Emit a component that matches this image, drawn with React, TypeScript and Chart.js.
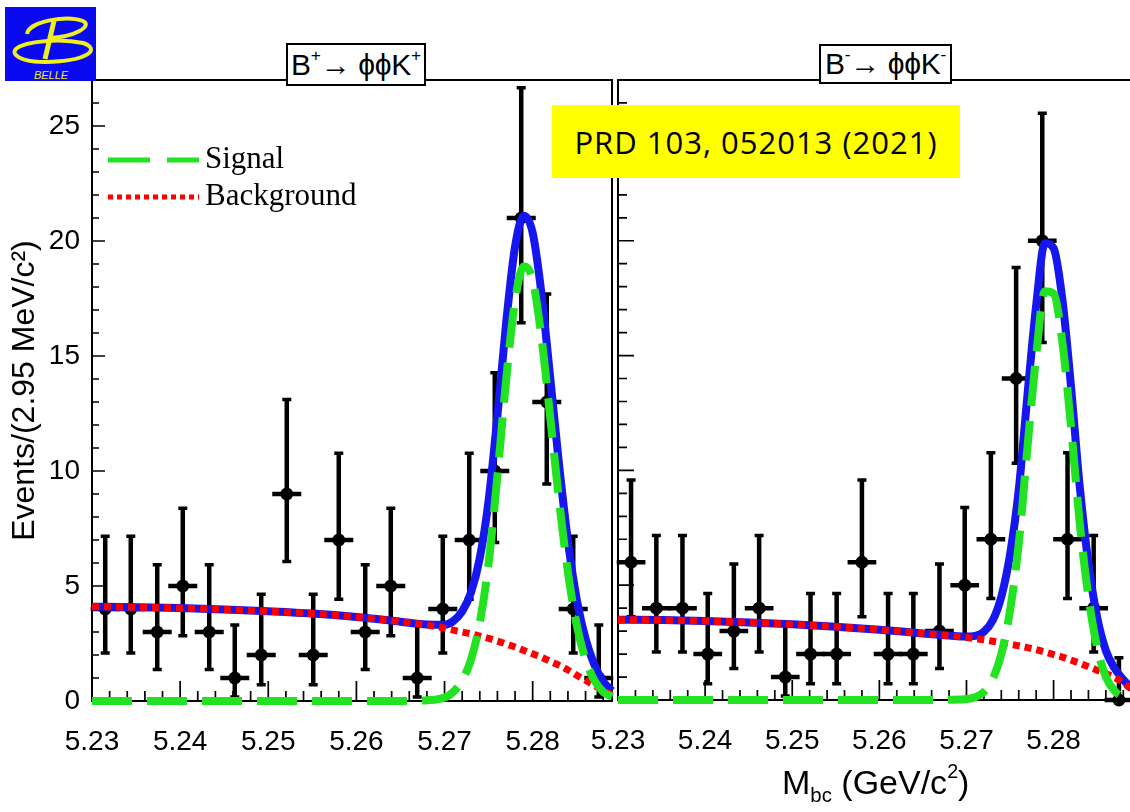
import React, { useEffect, useRef } from "react";
import { Chart, registerables } from "chart.js";

Chart.register(...registerables);

// ---------------- data ----------------
const massTicks = [5.23, 5.24, 5.25, 5.26, 5.27, 5.28];
const eventTicks = [0, 5, 10, 15, 20, 25];

const binCenters = [
  5.2315, 5.2344, 5.2374, 5.2403, 5.2433, 5.2462, 5.2492, 5.2521, 5.2551, 5.258,
  5.261, 5.2639, 5.2669, 5.2698, 5.2728, 5.2757, 5.2787, 5.2816, 5.2846, 5.2875,
];
const binHalfWidth = 0.001475;

// B+ -> phi phi K+
const plusCounts = [4, 4, 3, 5, 3, 1, 2, 9, 2, 7, 3, 5, 1, 4, 7, 10, 21, 13, 4, 1];
const plusErrLow = [1.91, 1.91, 1.63, 2.16, 1.63, 0.83, 1.29, 2.94, 1.29, 2.58, 1.63, 2.16, 0.83, 1.91, 2.58, 3.11, 4.55, 3.56, 1.91, 0.83];
const plusErrHigh = [3.16, 3.16, 2.92, 3.38, 2.92, 2.3, 2.64, 4.11, 2.64, 3.77, 2.92, 3.38, 2.3, 3.16, 3.77, 4.27, 5.66, 4.7, 3.16, 2.3];

// B- -> phi phi K-
const minusCounts = [6, 4, 4, 2, 3, 4, 1, 2, 2, 6, 2, 2, 3, 5, 7, 14, 20, 7, 4, 0];
const minusErrLow = [2.38, 1.91, 1.91, 1.29, 1.63, 1.91, 0.83, 1.29, 1.29, 2.38, 1.29, 1.29, 1.63, 2.16, 2.58, 3.69, 4.43, 2.58, 1.91, 0];
const minusErrHigh = [3.58, 3.16, 3.16, 2.64, 2.92, 3.16, 2.3, 2.64, 2.64, 3.58, 2.64, 2.64, 2.92, 3.38, 3.77, 4.83, 5.55, 3.77, 3.16, 1.84];

// fit curves
const curveMass = [
  5.23, 5.235, 5.24, 5.245, 5.25, 5.255, 5.26, 5.265, 5.268, 5.27, 5.271, 5.272, 5.273, 5.274, 5.275,
  5.276, 5.277, 5.278, 5.279, 5.28, 5.281, 5.282, 5.283, 5.284, 5.285, 5.286, 5.287, 5.288, 5.289,
];
const plusBackground = [4.1, 4.08, 4.04, 3.98, 3.9, 3.8, 3.65, 3.45, 3.3, 3.17, 3.08, 3.0, 2.92, 2.82, 2.72, 2.6, 2.48, 2.35, 2.2, 2.05, 1.9, 1.72, 1.55, 1.35, 1.12, 0.9, 0.68, 0.45, 0.27];
const plusSignal = [0, 0, 0, 0, 0, 0, 0, 0, 0.03, 0.15, 0.4, 0.9, 1.8, 3.4, 6.0, 9.8, 14.0, 17.4, 18.9, 18.3, 15.8, 12.3, 8.7, 5.6, 3.3, 1.8, 0.9, 0.4, 0.18];
const plusTotal = [4.1, 4.08, 4.04, 3.98, 3.9, 3.8, 3.65, 3.45, 3.33, 3.32, 3.48, 3.9, 4.72, 6.22, 8.72, 12.4, 16.48, 19.75, 21.1, 20.35, 17.7, 14.02, 10.25, 6.95, 4.42, 2.7, 1.58, 0.85, 0.45];

const minusBackground = [3.5, 3.48, 3.44, 3.38, 3.3, 3.19, 3.06, 2.9, 2.8, 2.72, 2.67, 2.62, 2.56, 2.5, 2.43, 2.36, 2.28, 2.19, 2.09, 1.98, 1.87, 1.74, 1.6, 1.45, 1.3, 1.15, 0.98, 0.75, 0.45];
const minusSignal = [0, 0, 0, 0, 0, 0, 0, 0, 0.01, 0.04, 0.12, 0.35, 0.9, 2.0, 3.9, 6.8, 11.0, 15.0, 17.8, 17.7, 15.6, 11.9, 7.7, 4.5, 2.3, 1.0, 0.4, 0.14, 0.04];
const minusTotal = [3.5, 3.48, 3.44, 3.38, 3.3, 3.19, 3.06, 2.9, 2.81, 2.76, 2.79, 2.97, 3.46, 4.5, 6.33, 9.16, 13.28, 17.19, 19.89, 19.68, 17.47, 13.64, 9.3, 5.95, 3.6, 2.15, 1.38, 0.89, 0.49];

// ---------------- styles ----------------
const GREEN = "rgb(34,226,34)";
const RED = "#ff0000";
const BLUE = "rgb(22,22,238)";
const SANS = '"Liberation Sans", Arial, Helvetica, sans-serif';
const SERIF = '"Liberation Serif", "Times New Roman", serif';

const rootFrame = {
  id: "rootFrame",
  beforeDatasetsDraw(chart: any, _args: any, opts: any) {
    const { ctx, chartArea } = chart;
    const { left, right, top, bottom } = chartArea;
    const xs = chart.scales.x;
    const ys = chart.scales.y;
    ctx.save();
    ctx.strokeStyle = "#000";
    // inward ticks
    ctx.lineWidth = 1.7;
    ctx.beginPath();
    for (let v = 0; v <= ys.max + 1e-9; v += 1) {
      const py = ys.getPixelForValue(v);
      const len = eventTicks.includes(v) ? opts.yMajor : opts.yMinor;
      ctx.moveTo(left, py);
      ctx.lineTo(left + len, py);
    }
    for (let k = 0; ; k++) {
      const v = massTicks[0] + k * 0.002;
      if (v > xs.max + 1e-9) break;
      const px = xs.getPixelForValue(v);
      const len = k % 5 === 0 ? 20 : 10;
      ctx.moveTo(px, bottom);
      ctx.lineTo(px, bottom - len);
    }
    ctx.stroke();
    // frame
    ctx.lineWidth = 2;
    ctx.strokeRect(left, top, right - left, bottom - top);
    // error bars
    const { counts, lo, hi } = opts;
    ctx.lineCap = "butt";
    for (let i = 0; i < binCenters.length; i++) {
      const c = binCenters[i];
      const cx = xs.getPixelForValue(c);
      const x1 = xs.getPixelForValue(c - binHalfWidth);
      const x2 = xs.getPixelForValue(c + binHalfWidth);
      const py = ys.getPixelForValue(counts[i]);
      const pLo = ys.getPixelForValue(counts[i] - lo[i]);
      const pHi = ys.getPixelForValue(counts[i] + hi[i]);
      ctx.lineWidth = 4.5;
      ctx.beginPath();
      ctx.moveTo(x1 - 1.5, py);
      ctx.lineTo(x2 + 1.5, py);
      ctx.moveTo(cx, pLo);
      ctx.lineTo(cx, pHi);
      ctx.stroke();
      ctx.lineWidth = 3.5;
      ctx.beginPath();
      ctx.moveTo(cx - 4.5, pHi);
      ctx.lineTo(cx + 4.5, pHi);
      if (lo[i] > 0) {
        ctx.moveTo(cx - 4.5, pLo);
        ctx.lineTo(cx + 4.5, pLo);
      }
      ctx.stroke();
    }
    ctx.restore();
  },
  afterDraw(chart: any, _args: any, opts: any) {
    if (!opts.legend) return;
    const { ctx } = chart;
    ctx.save();
    ctx.lineWidth = 5;
    ctx.strokeStyle = GREEN;
    ctx.setLineDash([42, 17]);
    ctx.beginPath();
    ctx.moveTo(108, 160);
    ctx.lineTo(199, 160);
    ctx.stroke();
    ctx.strokeStyle = RED;
    ctx.setLineDash([5, 4]);
    ctx.beginPath();
    ctx.moveTo(108, 197);
    ctx.lineTo(199, 197);
    ctx.stroke();
    ctx.setLineDash([]);
    ctx.fillStyle = "#000";
    ctx.font = `31px ${SERIF}`;
    ctx.textBaseline = "middle";
    ctx.fillText("Signal", 205, 160);
    ctx.fillText("Background", 205, 197);
    ctx.restore();
  },
};

function makeConfig(
  counts: number[],
  lo: number[],
  hi: number[],
  signal: number[],
  background: number[],
  total: number[],
  side: "left" | "right"
): any {
  const isLeft = side === "left";
  const curve = (vals: number[]) => curveMass.map((m, i) => ({ x: m, y: vals[i] }));
  return {
    type: "line",
    data: {
      datasets: [
        {
          label: "Signal",
          data: curve(signal),
          borderColor: GREEN,
          borderWidth: 8,
          borderDash: [40, 15],
          pointRadius: 0,
          cubicInterpolationMode: "monotone",
          fill: false,
          clip: false,
        },
        {
          label: "Background",
          data: curve(background),
          borderColor: RED,
          borderWidth: 7,
          borderDash: [7, 5],
          pointRadius: 0,
          cubicInterpolationMode: "monotone",
          fill: false,
          clip: false,
        },
        {
          label: "Total",
          data: curve(total),
          borderColor: BLUE,
          borderWidth: 8,
          pointRadius: 0,
          cubicInterpolationMode: "monotone",
          fill: false,
          clip: false,
        },
        {
          label: "Data",
          data: binCenters.map((c, i) => ({ x: c, y: counts[i] })),
          showLine: false,
          pointRadius: 6.5,
          pointBackgroundColor: "#000",
          pointBorderColor: "#000",
          pointBorderWidth: 0,
          clip: false,
        },
      ],
    },
    options: {
      responsive: false,
      maintainAspectRatio: false,
      animation: false,
      events: [],
      layout: {
        autoPadding: false,
        padding: { left: 0, top: 80, right: isLeft ? 4 : 18, bottom: 0 },
      },
      plugins: {
        legend: { display: false },
        tooltip: { enabled: false },
        rootFrame: {
          counts,
          lo,
          hi,
          yMajor: isLeft ? 13 : 16,
          yMinor: isLeft ? 7 : 9,
          legend: isLeft,
        },
      },
      scales: {
        x: {
          type: "linear",
          min: 5.23,
          max: 5.289,
          afterBuildTicks: (axis: any) => {
            axis.ticks = massTicks.map((v) => ({ value: v }));
          },
          afterFit: (s: any) => {
            s.height = isLeft ? 111 : 112;
          },
          grid: { display: false, drawTicks: false },
          border: { display: false },
          ticks: {
            callback: (v: any) => Number(v).toFixed(2),
            color: "#000",
            font: { family: SANS, size: 28 },
            padding: 24,
            maxRotation: 0,
            autoSkip: false,
          },
        },
        y: {
          type: "linear",
          min: 0,
          max: 27,
          afterBuildTicks: (axis: any) => {
            axis.ticks = eventTicks.map((v) => ({ value: v }));
          },
          afterFit: (s: any) => {
            s.width = isLeft ? 92 : 58;
          },
          grid: { display: false, drawTicks: false },
          border: { display: false },
          ticks: {
            display: isLeft,
            color: "#000",
            font: { family: SANS, size: 28 },
            padding: 12,
          },
          title: {
            display: isLeft,
            text: "Events/(2.95 MeV/c²)",
            color: "#000",
            font: { family: SANS, size: 32 },
            padding: { top: 6, bottom: 0 },
          },
        },
      },
    },
    plugins: [rootFrame],
  };
}

const supStyle: React.CSSProperties = { fontSize: "0.58em", verticalAlign: "0.8em", lineHeight: 0 };

export default function App() {
  const leftRef = useRef<HTMLCanvasElement>(null);
  const rightRef = useRef<HTMLCanvasElement>(null);

  useEffect(() => {
    const left = new Chart(
      leftRef.current as HTMLCanvasElement,
      makeConfig(plusCounts, plusErrLow, plusErrHigh, plusSignal, plusBackground, plusTotal, "left")
    );
    const right = new Chart(
      rightRef.current as HTMLCanvasElement,
      makeConfig(minusCounts, minusErrLow, minusErrHigh, minusSignal, minusBackground, minusTotal, "right")
    );
    return () => {
      left.destroy();
      right.destroy();
    };
  }, []);

  const titleBox: React.CSSProperties = {
    position: "absolute",
    boxSizing: "border-box",
    border: "2px solid #000",
    background: "#fff",
    fontFamily: SANS,
    fontSize: 30,
    letterSpacing: -0.3,
    color: "#000",
    textAlign: "center",
    whiteSpace: "nowrap",
    display: "flex",
    alignItems: "center",
    justifyContent: "center",
    overflow: "hidden",
  };

  return (
    <div
      style={{
        position: "fixed",
        left: 0,
        top: 0,
        width: 1130,
        height: 812,
        overflow: "hidden",
        background: "#fff",
      }}
    >
      <canvas
        ref={leftRef}
        width={616}
        height={812}
        style={{ position: "absolute", left: 0, top: 0, width: 616, height: 812 }}
      />
      <canvas
        ref={rightRef}
        width={590}
        height={812}
        style={{ position: "absolute", left: 560, top: 0, width: 590, height: 812 }}
      />

      {/* Belle logo */}
      <div style={{ position: "absolute", left: 5, top: 7, width: 91, height: 74, background: "#0a0af0" }}>
        <svg width="91" height="74" viewBox="0 0 91 74">
          <path d="M22 27 C 24 14, 62 8, 78 14 C 88 19, 70 30, 44 31" stroke="#eeee22" strokeWidth="4" fill="none" />
          <path d="M49 14 L 40 52" stroke="#eeee22" strokeWidth="5" fill="none" />
          <path d="M10 47 C 4 36, 50 30, 78 36 C 96 42, 84 54, 40 55 C 24 55, 14 52, 10 47" stroke="#eeee22" strokeWidth="4" fill="none" />
          <text x="46" y="72" textAnchor="middle" fontFamily={SANS} fontStyle="italic" fontSize="11" fill="#eeee22">
            BELLE
          </text>
        </svg>
      </div>

      {/* panel titles */}
      <div style={{ ...titleBox, left: 286, top: 43, width: 140, height: 43 }}>
        <span>
          B<sup style={supStyle}>+</sup>→ ϕϕK<sup style={supStyle}>+</sup>
        </span>
      </div>
      <div style={{ ...titleBox, left: 819, top: 44, width: 133, height: 40 }}>
        <span>
          B<sup style={supStyle}>-</sup>→ ϕϕK<sup style={supStyle}>-</sup>
        </span>
      </div>

      {/* reference label */}
      <div
        style={{
          position: "absolute",
          left: 552,
          top: 105,
          width: 408,
          height: 73,
          background: "#ffff00",
          display: "flex",
          alignItems: "center",
          justifyContent: "center",
          fontFamily: '"Open Sans", "Noto Sans", sans-serif',
          fontSize: 31,
          letterSpacing: 1,
          color: "#000",
          whiteSpace: "nowrap",
        }}
      >
        PRD 103, 052013 (2021)
      </div>

      {/* x-axis title */}
      <div
        style={{
          position: "absolute",
          left: 782,
          top: 762,
          fontFamily: SANS,
          fontSize: 34,
          lineHeight: "40px",
          color: "#000",
          whiteSpace: "nowrap",
        }}
      >
        M<sub style={{ fontSize: "0.6em", verticalAlign: "-0.4em", lineHeight: 0 }}>bc</sub> (GeV/c
        <sup style={supStyle}>2</sup>)
      </div>
    </div>
  );
}
